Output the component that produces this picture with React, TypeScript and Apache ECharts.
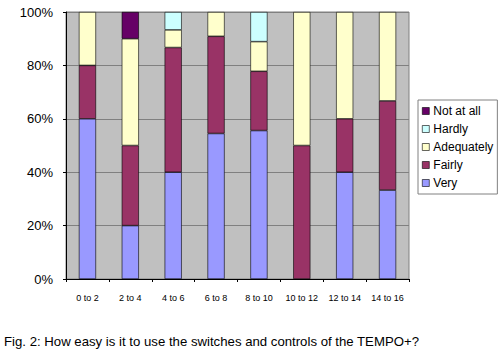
import React, { useEffect, useRef } from "react";
import * as echarts from "echarts";

const categories = ["0 to 2", "2 to 4", "4 to 6", "6 to 8", "8 to 10", "10 to 12", "12 to 14", "14 to 16"];
const very = [60, 20, 40, 54.5, 55.6, 0, 40, 33.3];
const fairly = [20, 30, 46.7, 36.4, 22.2, 50, 20, 33.4];
const adequately = [20, 40, 6.6, 9.1, 11.1, 50, 40, 33.3];
const hardly = [0, 0, 6.7, 0, 11.1, 0, 0, 0];
const notAtAll = [0, 10, 0, 0, 0, 0, 0, 0];
const legendOrder = ["Not at all", "Hardly", "Adequately", "Fairly", "Very"];
const caption = "Fig. 2: How easy is it to use the switches and controls of the TEMPO+?";

const FONT = "Liberation Sans, Arial, sans-serif";

export default function App() {
  const ref = useRef<HTMLDivElement>(null);
  useEffect(() => {
    if (!ref.current) return;
    const chart = echarts.init(ref.current, undefined, { renderer: "svg" });
    const mk = (name: string, data: number[], color: string) => ({
      name,
      type: "bar",
      stack: "total",
      data: data.map((v) => (v === 0 ? null : v)),
      barWidth: "40%",
      itemStyle: { color, borderColor: "#000", borderWidth: 0.6 },
    });
    chart.setOption({
      animation: false,
      backgroundColor: "#fff",
      title: {
        text: caption,
        left: 4,
        top: 335,
        padding: 0,
        textStyle: { fontFamily: FONT, fontSize: 13.2, fontWeight: "normal", color: "#000" },
      },
      legend: {
        data: legendOrder,
        orient: "vertical",
        left: 418,
        top: 100,
        itemWidth: 7,
        itemHeight: 7,
        itemGap: 6,
        padding: [5, 4, 5, 4],
        icon: "rect",
        backgroundColor: "#fff",
        borderColor: "#808080",
        borderWidth: 1,
        borderRadius: 0,
        itemStyle: { borderColor: "#000", borderWidth: 0.6 },
        textStyle: { fontFamily: FONT, fontSize: 12, color: "#000", padding: [0, 0, 0, -1] },
      },
      grid: {
        left: 66,
        right: 91,
        top: 12,
        bottom: 76,
        show: true,
        backgroundColor: "#C0C0C0",
        borderColor: "#808080",
        borderWidth: 1,
      },
      xAxis: {
        type: "category",
        data: categories,
        axisLine: { lineStyle: { color: "#000", width: 1 } },
        axisTick: { show: true, alignWithLabel: false, length: 3, lineStyle: { color: "#000" } },
        axisLabel: { fontFamily: FONT, fontSize: 9, color: "#000", margin: 14 },
      },
      yAxis: {
        type: "value",
        min: 0,
        max: 100,
        interval: 20,
        axisLine: { show: true, lineStyle: { color: "#000", width: 1 } },
        axisTick: { show: true, length: 3, lineStyle: { color: "#000" } },
        axisLabel: { fontFamily: FONT, fontSize: 13, color: "#000", margin: 13, formatter: "{value}%" },
        splitLine: { show: true, lineStyle: { color: "#808080", width: 1 } },
      },
      series: [
        mk("Very", very, "#9999FF"),
        mk("Fairly", fairly, "#993366"),
        mk("Adequately", adequately, "#FFFFCC"),
        mk("Hardly", hardly, "#CCFFFF"),
        mk("Not at all", notAtAll, "#660066"),
      ],
    });
    return () => chart.dispose();
  }, []);
  return <div ref={ref} style={{ position: "absolute", left: 0, top: 0, width: 500, height: 355 }} />;
}
